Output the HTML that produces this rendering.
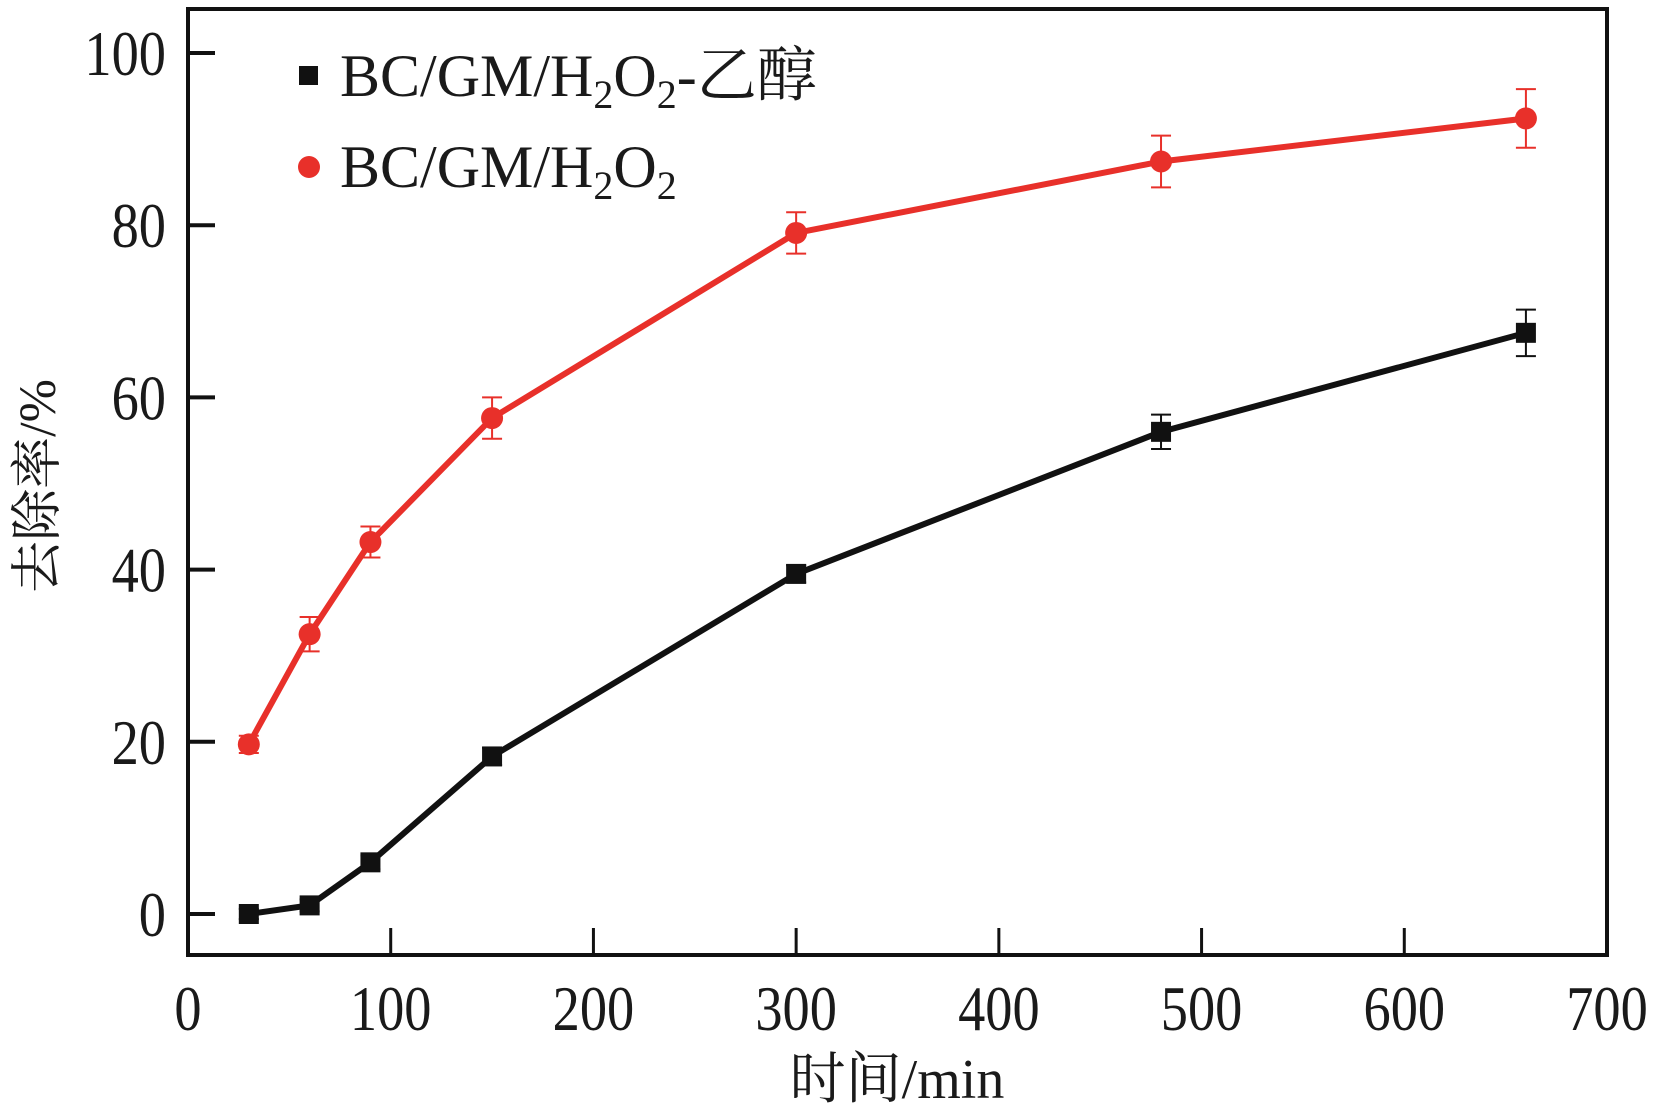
<!DOCTYPE html>
<html><head><meta charset="utf-8"><style>
html,body{margin:0;padding:0;background:#fff}
svg text{font-family:"Liberation Serif","Noto Serif CJK SC",serif;fill:#1a1a1a}
</style></head><body>
<svg id="c" width="1657" height="1108" viewBox="0 0 1657 1108"></svg>
<script>
const xTicks=[0,100,200,300,400,500,600,700];
const yTicks=[0,20,40,60,80,100];
const times=[30,60,90,150,300,480,660];
const ethanolVals=[0,1,6,18.3,39.5,56,67.5];
const ethanolErr=[0.6,0.7,0.8,1,1,2,2.7];
const h2o2Vals=[19.7,32.5,43.2,57.6,79.1,87.4,92.4];
const h2o2Err=[1,2,1.8,2.4,2.4,3,3.4];
const L=188,R=1607,T=9,B=955;
const X=v=>L+(v/700)*(R-L);
const Y=v=>914-(v/100)*(914-53);
const svg=document.getElementById('c');
const NS='http://www.w3.org/2000/svg';
function mk(tag,a,parent){const e=document.createElementNS(NS,tag);for(const k in a)e.setAttribute(k,a[k]);(parent||svg).appendChild(e);return e;}
let e=mk('rect',{x:L,y:T,width:R-L,height:B-T,fill:'none',stroke:'#111','stroke-width':4});


yTicks.forEach(v=>{
 let t=mk('line',{x1:L,x2:L+27,y1:Y(v),y2:Y(v),stroke:'#111','stroke-width':4});
 
 
 let l=mk('text',{x:0,y:0,'text-anchor':'end','font-size':64,transform:`translate(166,${Y(v)+22}) scale(0.85,1)`});
 l.textContent=v;
 
 
});
xTicks.forEach(v=>{
 if(v>0&&v<700){let t=mk('line',{x1:X(v),x2:X(v),y1:B,y2:B-27,stroke:'#111','stroke-width':3});
 
 }
 let l=mk('text',{x:0,y:0,'text-anchor':'middle','font-size':64,transform:`translate(${X(v)},1030) scale(0.85,1)`});
 l.textContent=v;
 
 
});
let xt=mk('text',{x:897,y:1098,'text-anchor':'middle','font-size':56});
xt.textContent='时间/min';


let yt=mk('text',{x:0,y:0,'text-anchor':'middle','font-size':52,transform:'translate(55,486) rotate(-90)'});
yt.textContent='去除率/%';


function series(vals,errs,color,shape,name){
 const g=mk('g',{});
 
 
 mk('polyline',{points:times.map((t,i)=>X(t)+','+Y(vals[i])).join(' '),fill:'none',stroke:color,'stroke-width':6},g);
 times.forEach((t,i)=>{
  const x=X(t),y1=Y(vals[i]+errs[i]),y2=Y(vals[i]-errs[i]);
  mk('path',{d:`M${x},${y1}V${y2}M${x-10},${y1}H${x+10}M${x-10},${y2}H${x+10}`,stroke:color,'stroke-width':2,fill:'none'},g);
  let m;
  if(shape==='sq')m=mk('rect',{x:x-10,y:Y(vals[i])-10,width:20,height:20,fill:color},g);
  else m=mk('circle',{cx:x,cy:Y(vals[i]),r:11,fill:color},g);
  
  
 });
}
series(h2o2Vals,h2o2Err,'#e8302a','ci','series-bc-gm-h2o2');
series(ethanolVals,ethanolErr,'#111','sq','series-bc-gm-h2o2-ethanol');
const lg=mk('g',{});


mk('rect',{x:299,y:66,width:19,height:19,fill:'#111'},lg);
let t1=mk('text',{x:340,y:96,'font-size':60},lg);
t1.innerHTML='BC/GM/H<tspan font-size="40" dy="12">2</tspan><tspan dy="-12">O</tspan><tspan font-size="40" dy="12">2</tspan><tspan dy="-12">-乙醇</tspan>';


mk('circle',{cx:309,cy:167,r:11,fill:'#e8302a'},lg);
let t2=mk('text',{x:340,y:187,'font-size':60},lg);
t2.innerHTML='BC/GM/H<tspan font-size="40" dy="12">2</tspan><tspan dy="-12">O</tspan><tspan font-size="40" dy="12">2</tspan>';


</script>
</body></html>
